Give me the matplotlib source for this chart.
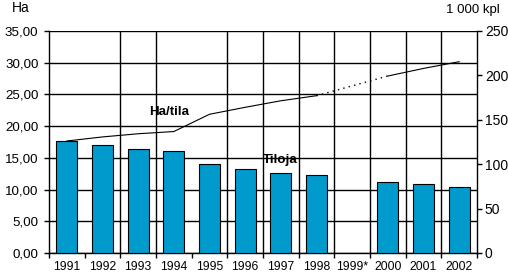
import matplotlib.pyplot as plt
import numpy as np

plt.rcParams['font.family'] = ['Liberation Sans', 'DejaVu Sans']

years = ['1991', '1992', '1993', '1994', '1995', '1996', '1997', '1998',
         '1999*', '2000', '2001', '2002']
# tiloja, 1 000 kpl (right axis)
farms = [126.1, 121.6, 116.8, 114.5, 100.2, 94.2, 89.7, 87.5,
         np.nan, 79.6, 77.4, 74.7]
# ha/tila (left axis)
ha_per_farm = [17.66, 18.3, 18.8, 19.15, 21.87, 22.97, 24.0, 24.8,
               np.nan, 27.9, 29.1, 30.16]

x = np.arange(len(years))
farms = np.array(farms)
ha = np.array(ha_per_farm)

fig = plt.figure(figsize=(5.08, 2.72), dpi=100)
ax = fig.add_axes([49/508, 19/272, 428/508, 222/272])
ax.set_xlim(-0.5, len(years) - 0.5)
ax.set_ylim(0, 35)
ax.set_yticks(np.arange(0, 36, 5))
ax.set_yticklabels([f'{v:.2f}'.replace('.', ',') for v in np.arange(0, 36, 5)])
ax.yaxis.grid(True, color='black', lw=1)
ax.set_axisbelow(True)
# vertical lines at the category borders (not all of them are drawn in the original)
for k in [2, 3, 5, 6, 7, 8, 9, 10, 11]:
    ax.axvline(k - 0.5, color='black', lw=1, zorder=0)
ax.set_xticks(x)
ax.set_xticklabels(years)
ax.set_xticks(np.arange(-0.5, len(years)), minor=True)
ax.tick_params(axis='x', which='major', length=0, pad=6, labelsize=8.7)
ax.tick_params(axis='x', which='minor', length=3.6, width=1, direction='out')
ax.tick_params(axis='y', length=3.6, width=1, pad=4, labelsize=9.6)
for s in ['top', 'right']:
    ax.spines[s].set_visible(False)
ax.spines['left'].set_linewidth(1)
ax.spines['bottom'].set_linewidth(1)

ax2 = ax.twinx()
ax2.bar(x, farms, width=0.58, color='#009ACD', edgecolor='black', lw=0.8)
ax2.set_ylim(0, 250)
ax2.set_yticks(np.arange(0, 251, 50))
ax2.tick_params(axis='y', length=3.6, width=1, pad=2, labelsize=10)
ax2.patch.set_visible(False)
for s in ['top', 'left', 'bottom']:
    ax2.spines[s].set_visible(False)
ax2.spines['right'].set_linewidth(1)

ax3 = ax.twinx()
ax3.set_ylim(0, 35)
ax3.axis('off')
ax3.plot(x, ha, color='black', lw=0.8)
ax3.plot([x[7], x[9]], [ha[7], ha[9]], color='black', lw=1.0, ls=(0, (1, 3)))
ax3.text(2.86, 22.2, 'Ha/tila', fontsize=9.6, fontweight='bold', ha='center', va='center')
ax3.text(5.98, 14.66, 'Tiloja', fontsize=9.6, fontweight='bold', ha='center', va='center')

fig.text(12/508, 1 - 8/272, 'Ha', fontsize=10, va='center', ha='left')
fig.text(500/508, 1 - 10/272, '1 000 kpl', fontsize=9.5, va='center', ha='right')

fig.savefig('out.png', dpi=100)
